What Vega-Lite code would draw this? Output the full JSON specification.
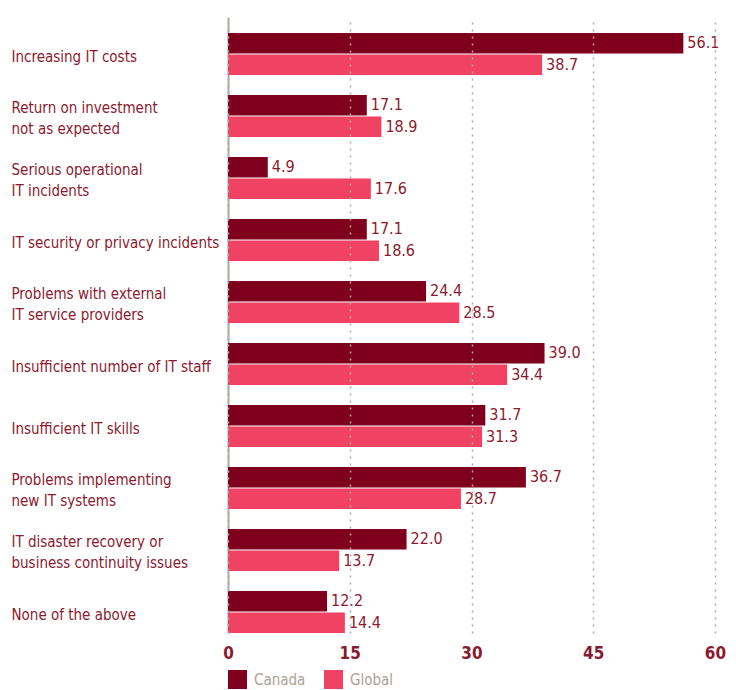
{
  "$schema": "https://vega.github.io/schema/vega-lite/v6.json",
  "width": 487,
  "height": 616,
  "autosize": {"type": "none"},
  "padding": {"left": 228, "top": 17, "right": 21, "bottom": 57},
  "background": "white",
  "config": {
    "view": {"stroke": null},
    "font": "DejaVu Sans Condensed, Roboto, sans-serif"
  },
  "data": {
    "values": [
      {"cat": "Increasing IT costs", "series": "Canada", "value": 56.1},
      {"cat": "Increasing IT costs", "series": "Global", "value": 38.7},
      {"cat": "Return on investment|not as expected", "series": "Canada", "value": 17.1},
      {"cat": "Return on investment|not as expected", "series": "Global", "value": 18.9},
      {"cat": "Serious operational|IT incidents", "series": "Canada", "value": 4.9},
      {"cat": "Serious operational|IT incidents", "series": "Global", "value": 17.6},
      {"cat": "IT security or privacy incidents", "series": "Canada", "value": 17.1},
      {"cat": "IT security or privacy incidents", "series": "Global", "value": 18.6},
      {"cat": "Problems with external|IT service providers", "series": "Canada", "value": 24.4},
      {"cat": "Problems with external|IT service providers", "series": "Global", "value": 28.5},
      {"cat": "Insufficient number of IT staff", "series": "Canada", "value": 39.0},
      {"cat": "Insufficient number of IT staff", "series": "Global", "value": 34.4},
      {"cat": "Insufficient IT skills", "series": "Canada", "value": 31.7},
      {"cat": "Insufficient IT skills", "series": "Global", "value": 31.3},
      {"cat": "Problems implementing|new IT systems", "series": "Canada", "value": 36.7},
      {"cat": "Problems implementing|new IT systems", "series": "Global", "value": 28.7},
      {"cat": "IT disaster recovery or|business continuity issues", "series": "Canada", "value": 22.0},
      {"cat": "IT disaster recovery or|business continuity issues", "series": "Global", "value": 13.7},
      {"cat": "None of the above", "series": "Canada", "value": 12.2},
      {"cat": "None of the above", "series": "Global", "value": 14.4}
    ]
  },
  "encoding": {
    "y": {
      "field": "cat",
      "type": "nominal",
      "sort": null,
      "scale": {"paddingInner": 0.3226, "paddingOuter": 0.129, "align": 1},
      "axis": {
        "title": null,
        "ticks": false,
        "domain": true,
        "domainColor": "#B3A99F",
        "domainWidth": 2,
        "labelAlign": "left",
        "labelPadding": 217,
        "labelFontSize": 15,
        "labelColor": "#8B1A2E",
        "labelLineHeight": 21,
        "labelLimit": 300,
        "labelOffset": {"condition": {"test": "indexof(datum.value, '|') >= 0", "value": -8}, "value": 3},
        "labelExpr": "split(datum.value, '|')"
      }
    },
    "yOffset": {
      "field": "series",
      "type": "nominal",
      "scale": {"paddingInner": 0.05}
    },
    "x": {
      "field": "value",
      "type": "quantitative",
      "scale": {"domain": [0, 60], "nice": false},
      "axis": {
        "title": null,
        "values": [0, 15, 30, 45, 60],
        "domain": false,
        "ticks": false,
        "grid": true,
        "gridDash": [2, 5],
        "gridColor": "#AAAAAA",
        "gridWidth": 1.5,
        "zindex": 1,
        "labelFontSize": 17,
        "labelFontWeight": "bold",
        "labelColor": "#8B1A2E",
        "labelPadding": 12,
        "labelFlush": false
      }
    }
  },
  "layer": [
    {
      "mark": {"type": "bar"},
      "encoding": {
        "color": {
          "field": "series",
          "type": "nominal",
          "scale": {"domain": ["Canada", "Global"], "range": ["#7F001C", "#F04262"]},
          "legend": {
            "title": null,
            "orient": "none",
            "legendX": 0,
            "legendY": 653,
            "direction": "horizontal",
            "symbolType": "square",
            "symbolSize": 361,
            "symbolStrokeWidth": 0,
            "labelFontSize": 15,
            "labelColor": "#ADA197",
            "columnPadding": 18,
            "labelOffset": 7
          }
        }
      }
    },
    {
      "mark": {"type": "text", "align": "left", "dx": 4, "fontSize": 16, "color": "#8B1A2E"},
      "encoding": {
        "text": {"field": "value", "type": "quantitative", "format": ".1f"}
      }
    }
  ]
}
